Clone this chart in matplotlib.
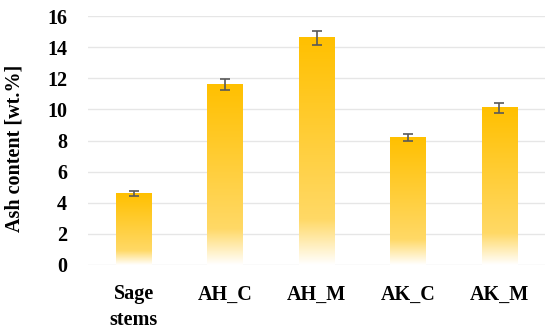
import matplotlib
matplotlib.use("Agg")
import matplotlib.pyplot as plt
import numpy as np
from matplotlib.colors import LinearSegmentedColormap

categories = ["Sage\nstems", "AH_C", "AH_M", "AK_C", "AK_M"]
values = [4.6, 11.6, 14.6, 8.2, 10.1]
errors = [0.15, 0.35, 0.45, 0.25, 0.33]
yticks = [0, 2, 4, 6, 8, 10, 12, 14, 16]

plt.rcParams['font.family'] = ['Liberation Serif', 'DejaVu Serif']

fig = plt.figure(figsize=(5.5, 3.35), dpi=100)
ax = fig.add_axes([0.16, 0.209, 0.831, 0.743])

cmap = LinearSegmentedColormap.from_list(
    "grad", [(0.0, (1, 1, 1)), (0.2, (1.0, 0.85, 0.40)), (1.0, (1.0, 0.753, 0.0))])

x = np.arange(len(categories))
width = 0.39
bars = ax.bar(x, values, width=width, color='none', zorder=2)
grad = np.linspace(0, 1, 256).reshape(-1, 1)
for b in bars:
    x0 = b.get_x()
    h = b.get_height()
    ax.imshow(grad, cmap=cmap, origin='lower', aspect='auto',
              extent=[x0, x0 + b.get_width(), 0, h], zorder=2, interpolation='bicubic')

ax.errorbar(x, values, yerr=errors, fmt='none', ecolor='#595959',
            elinewidth=1.2, capsize=3.5, capthick=1.2, zorder=3)

fs = 14.5
ax.set_xlim(-0.5, len(categories) - 0.5)
ax.set_ylim(0, 16)
ax.set_yticks(yticks)
ax.set_yticklabels([str(t) for t in yticks], fontsize=fs, fontweight='bold')
ax.set_xticks(x)
ax.set_xticklabels(categories, fontsize=fs, fontweight='bold', linespacing=1.4)
ax.tick_params(axis='y', length=0, pad=15)
ax.tick_params(axis='x', length=0, pad=14)
for s in ax.spines.values():
    s.set_visible(False)
ax.grid(axis='y', color='#e6e6e6', linewidth=1.0, zorder=0)
ax.set_axisbelow(True)
ax.set_ylabel("Ash content [wt.%]", fontsize=fs, fontweight='bold')
ax.yaxis.set_label_coords(-0.14, 0.47)

fig.savefig("out.png", dpi=100)
